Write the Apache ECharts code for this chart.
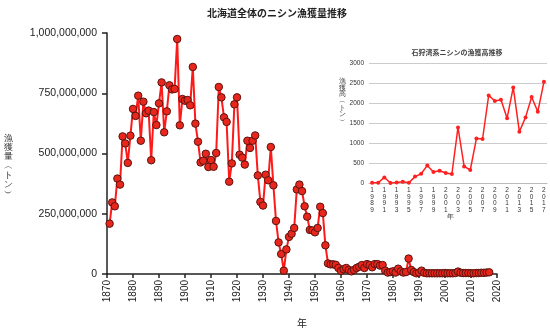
<!DOCTYPE html>
<html><head><meta charset="utf-8">
<script src="https://cdn.jsdelivr.net/npm/echarts@6/dist/echarts.min.js"></script>
<style>html,body{margin:0;padding:0;background:#fff}#c{width:550px;height:329px}</style>
</head><body><div id="c"></div>
<script>
const mainTitle = '北海道全体のニシン漁獲量推移';
const mainYName = '漁獲量（トン）';
const mainXName = '年';
const insetTitle = '石狩湾系ニシンの漁獲高推移';
const insetYName = '漁獲高（トン）';
const insetXName = '年';

const mainYears = [1871,1872,1873,1874,1875,1876,1877,1878,1879,1880,1881,1882,1883,1884,1885,1886,1887,1888,1889,1890,
1891,1892,1893,1894,1895,1896,1897,1898,1899,1900,1901,1902,1903,1904,1905,1906,1907,1908,1909,1910,
1911,1912,1913,1914,1915,1916,1917,1918,1919,1920,1921,1922,1923,1924,1925,1926,1927,1928,1929,1930,
1931,1932,1933,1934,1935,1936,1937,1938,1939,1940,1941,1942,1943,1944,1945,1946,1947,1948,1949,1950,
1951,1952,1953,1954,1955,1956,1957,1958,1959,1960,1961,1962,1963,1964,1965,1966,1967,1968,1969,1970,
1971,1972,1973,1974,1975,1976,1977,1978,1979,1980,1981,1982,1983,1984,1985,1986,1987,1988,1989,1990,
1991,1992,1993,1994,1995,1996,1997,1998,1999,2000,2001,2002,2003,2004,2005,2006,2007,2008,2009,2010,
2011,2012,2013,2014,2015,2016,2017];
const mainValues = [209e6,297e6,281e6,396e6,371e6,571e6,542e6,461e6,574e6,685e6,656e6,740e6,553e6,715e6,667e6,678e6,472e6,672e6,618e6,708e6,
795e6,588e6,675e6,783e6,766e6,768e6,975e6,617e6,726e6,719e6,722e6,700e6,859e6,624e6,549e6,463e6,470e6,499e6,444e6,473e6,
445e6,502e6,776e6,733e6,650e6,631e6,383e6,459e6,704e6,733e6,495e6,483e6,454e6,553e6,523e6,553e6,575e6,409e6,299e6,284e6,
412e6,389e6,527e6,368e6,220e6,131e6,83e6,14e6,102e6,154e6,167e6,191e6,351e6,371e6,344e6,281e6,238e6,183e6,181e6,173e6,
191e6,279e6,253e6,119e6,44e6,40e6,40e6,38e6,25e6,13e6,20e6,25e6,17e6,11e6,17e6,25e6,30e6,37e6,25e6,41e6,
37e6,28e6,41e6,41e6,35e6,37e6,14e6,6e6,8e6,11e6,6e6,22e6,11e6,6e6,8e6,64e6,17e6,8e6,3e6,6e6,
14e6,5e6,3e6,3e6,3e6,3e6,3e6,3e6,3e6,4e6,3e6,3e6,3e6,4e6,10e6,5e6,4e6,4e6,4e6,3e6,
3e6,4e6,4e6,5e6,5e6,6e6,7e6];
const mainYTicks = [0, 250000000, 500000000, 750000000, 1000000000];

const insetYears = ['1989','1990','1991','1992','1993','1994','1995','1996','1997','1998','1999','2000','2001','2002','2003',
'2004','2005','2006','2007','2008','2009','2010','2011','2012','2013','2014','2015','2016','2017'];
const insetValues = [5,5,140,0,15,30,5,160,230,440,275,305,250,225,1390,415,325,1110,1100,2190,2050,2080,1620,2390,1280,1640,2150,1780,2530];
const insetYTicks = [0,500,1000,1500,2000,2500,3000];

const FONT = '"Liberation Sans","Noto Sans CJK JP",sans-serif';
const chart = echarts.init(document.getElementById('c'), null, {renderer:'canvas'});
const vert = s => s.replace('（','︵').replace('）','︶').split('').join('\n');

chart.setOption({
  animation:false,
  backgroundColor:'#fff',
  textStyle:{fontFamily:FONT},
  title:[
    {text:mainTitle,left:272,top:4,textAlign:'center',textStyle:{fontSize:10,fontWeight:'bold',color:'#222',fontFamily:FONT}},
    {text:insetTitle,left:452,top:45,textAlign:'center',textStyle:{fontSize:7,fontWeight:'bold',color:'#444',fontFamily:FONT}}
  ],
  grid:[
    {left:107,right:53,top:33,bottom:55,containLabel:false,outerBoundsMode:'none'},
    {left:369,right:3,top:63,bottom:146,containLabel:false,outerBoundsMode:'none'}
  ],
  xAxis:[
    {type:'value',gridIndex:0,min:1870,max:2020,interval:10,
     name:mainXName,nameLocation:'middle',nameGap:45,nameTextStyle:{fontSize:10,color:'#222',fontFamily:FONT},
     axisLine:{lineStyle:{color:'#222',width:1.5}},
     axisTick:{show:true,length:4,lineStyle:{color:'#222',width:1.5}},
     axisLabel:{rotate:90,fontSize:10,color:'#222',margin:6,fontFamily:FONT,formatter:v=>String(v)},
     splitLine:{show:false}},
    {type:'category',gridIndex:1,data:insetYears,boundaryGap:true,
     axisLine:{lineStyle:{color:'#bbb'}},axisTick:{show:false},
     axisLabel:{interval:1,fontSize:6.5,lineHeight:6.5,color:'#333',margin:4,fontFamily:FONT,
       formatter:v=>v.split('').join('\n')}}
  ],
  yAxis:[
    {type:'value',gridIndex:0,min:0,max:1000000000,interval:250000000,
     axisLine:{show:true,lineStyle:{color:'#222',width:1.5}},
     axisTick:{show:true,length:5,lineStyle:{color:'#222',width:1.5}},
     axisLabel:{fontSize:10.5,color:'#222',margin:10,fontFamily:FONT,
       formatter:v=>Number(v).toLocaleString('en-US')},
     splitLine:{show:false}},
    {type:'value',gridIndex:1,min:0,max:3000,interval:500,
     axisLine:{show:false},axisTick:{show:false},
     axisLabel:{fontSize:6.5,color:'#333',margin:5,fontFamily:FONT,formatter:v=>String(v)},
     splitLine:{lineStyle:{color:'#ccc',width:1}}}
  ],
  series:[
    {type:'line',xAxisIndex:0,yAxisIndex:0,data:mainYears.map((y,i)=>[y,mainValues[i]]),
     symbol:'circle',symbolSize:7.5,showAllSymbol:true,
     lineStyle:{color:'#ff1a1a',width:2},
     itemStyle:{color:'#e8261c',borderColor:'#5a1410',borderWidth:1}},
    {type:'line',xAxisIndex:1,yAxisIndex:1,data:insetValues,
     symbol:'circle',symbolSize:4,showAllSymbol:true,
     lineStyle:{color:'#ff2020',width:1.5},
     itemStyle:{color:'#ff2020',borderWidth:0}}
  ],
  graphic:[
    {type:'text',left:4,top:134,style:{text:vert(mainYName),fontSize:9,lineHeight:9.2,fill:'#333',font:'9px "Noto Sans CJK JP"'}},
    {type:'text',left:339,top:78,style:{text:vert(insetYName),fontSize:6.5,lineHeight:6.6,fill:'#444',font:'6.5px "Noto Sans CJK JP"'}},
    {type:'text',left:447,top:214,style:{text:insetXName,fontSize:7,fill:'#333',font:'7px "Noto Sans CJK JP"'}}
  ]
});
</script></body></html>
